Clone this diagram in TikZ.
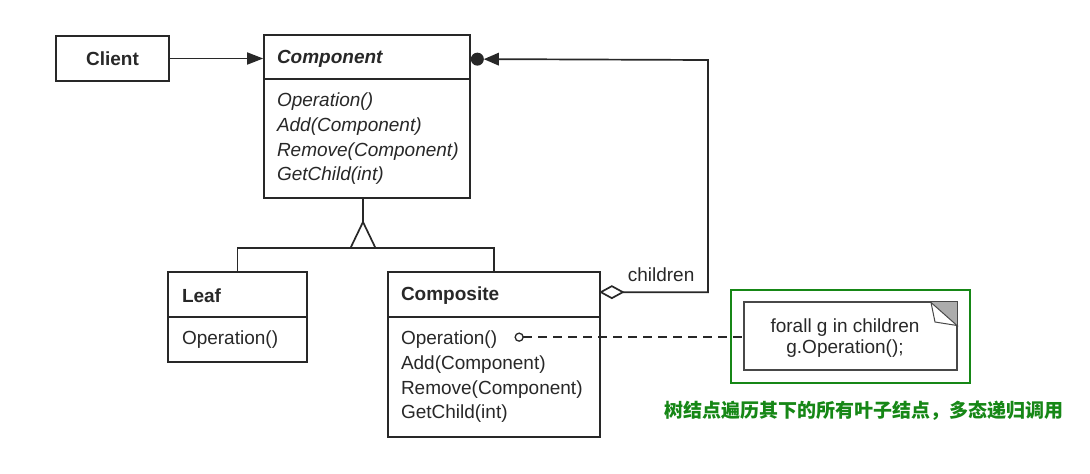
\documentclass[tikz,border=0pt]{standalone}
\usepackage{fontspec}
\setmainfont{Liberation Sans}
\newfontfamily\cjk{Noto Sans CJK SC}
\usetikzlibrary{calc,arrows.meta}
\definecolor{ink}{RGB}{40,40,40}
\definecolor{notegreen}{RGB}{22,135,22}
\begin{document}
\fontsize{19}{21}\selectfont
\begin{tikzpicture}[x=1pt,y=-1pt, line width=1.7pt, draw=ink,
  box/.style={draw=ink, line width=1.7pt, rectangle, inner sep=0pt},
  hdr/.style={font=\bfseries, text=ink, anchor=west, inner sep=0pt},
  mth/.style={text=ink, anchor=west, inner sep=0pt},
  link/.style={draw=ink, line width=1.7pt},
]
\useasboundingbox[fill=white] (0,0) rectangle (1090,474);

% Client
\node[box, font=\bfseries, text=ink, minimum width=113pt, minimum height=45pt] (client) at (112.5,58.5) {Client};

% Component
\node[box, minimum width=206pt, minimum height=163pt] (comp) at (367,116.5) {};
\draw[link] ($(comp.north west)+(0,45)$) -- ($(comp.north east)+(0,45)$);
\node[hdr, font=\bfseries\itshape] (compT) at ($(comp.north west)+(13,24.5)$) {Component};
\node[mth, font=\itshape] (cm1) at ($(comp.north west)+(13,67.5)$) {Operation()};
\node[mth, font=\itshape] (cm2) at ($(comp.north west)+(13,92.5)$) {Add(Component)};
\node[mth, font=\itshape] (cm3) at ($(comp.north west)+(13,117.5)$) {Remove(Component)};
\node[mth, font=\itshape] (cm4) at ($(comp.north west)+(13,141.5)$) {GetChild(int)};

% Leaf
\node[box, minimum width=139pt, minimum height=90pt] (leaf) at (237.5,317) {};
\draw[link] ($(leaf.north west)+(0,46)$) -- ($(leaf.north east)+(0,46)$);
\node[hdr] (leafT) at ($(leaf.north west)+(14,24.5)$) {Leaf};
\node[mth] (lm1) at ($(leaf.north west)+(14,68.5)$) {Operation()};

% Composite
\node[box, minimum width=212pt, minimum height=165pt] (composite) at (494,354.5) {};
\draw[link] ($(composite.north west)+(0,46)$) -- ($(composite.north east)+(0,46)$);
\node[hdr] (compoT) at ($(composite.north west)+(13,24.5)$) {Composite};
\node[mth] (om1) at ($(composite.north west)+(13,68.5)$) {Operation()};
\node[mth] (om2) at ($(composite.north west)+(13,93.5)$) {Add(Component)};
\node[mth] (om3) at ($(composite.north west)+(13,118.5)$) {Remove(Component)};
\node[mth] (om4) at ($(composite.north west)+(13,142.5)$) {GetChild(int)};

% Client -> Component
\draw[link, -{Triangle[length=16pt,width=12pt]}] (client.east) -- (client.east -| comp.west);

% Inheritance
\coordinate (inh) at (363,222);
\coordinate (bar) at (363,248);
\draw[link] (comp.south -| inh) -- (inh);
\draw[link, fill=white] (inh) -- ++(-12.5,26) -- ++(25,0) -- cycle;
\draw[link] (leaf.north) |- (bar) -| (composite.north);

% Aggregation (children)
\coordinate (dia) at ($(composite.north east)+(0,21)$);
\coordinate (corner) at (708,60);
\coordinate (tipA) at ($(comp.north east)+(0,25)$);
\draw[link, fill=white] (dia) -- ++(11,-6) -- ++(11,6) -- ++(-11,6) -- cycle;
\draw[link] ($(dia)+(22,0)$) -| (corner) -- ($(tipA)+(27,0)$);
\fill[ink] ($(tipA)+(6.5,0)$) circle (6.5);
\fill[ink] ($(tipA)+(13,0)$) -- ++(15,-6.5) -- ++(0,13) -- cycle;
\node[mth] (chl) at (627,275) {children};

% Note
\node[draw=ink!85, line width=1.3pt, minimum width=213pt, minimum height=68pt, inner sep=0pt] (note) at (850.5,336) {};
\node[text=ink, align=center, inner sep=0pt] (noteT) at (845,338) {forall g in children\\g.Operation();};
\fill[gray!65] (931,302) -- (957,302) -- (957,326) -- cycle;
\filldraw[fill=white, draw=ink!85, line width=1pt] (931,302.5) -- (935,322) -- (957,325.5) -- cycle;
\draw[draw=ink!85, line width=1.3pt] (note.north west) rectangle (note.south east);

% dashed link Operation() to note
\coordinate (circ) at ($(composite.north west)+(132,66)$);
\draw[link, line width=1.3pt] (circ) circle (4);
\draw[link, line width=1.5pt, dash pattern=on 9pt off 6pt] ($(circ)+(4,0)$) -- (note.west |- circ);

% Green highlight
\node[draw=notegreen, line width=2.4pt, minimum width=239pt, minimum height=93pt, inner sep=0pt] (grn) at (850.5,336.5) {};
\node[text=notegreen, font=\cjk\bfseries, inner sep=0pt] (lbl) at (864,411) {树结点遍历其下的所有叶子结点，多态递归调用};
\end{tikzpicture}
\end{document}
